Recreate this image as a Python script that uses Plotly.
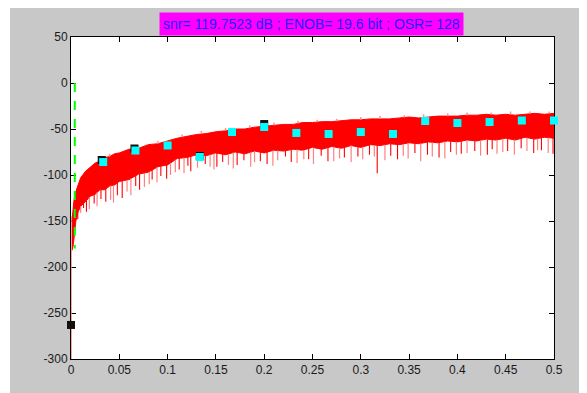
import numpy as np
import plotly.graph_objects as go

# ---------------- data ----------------
title_text = "snr= 119.7523 dB ; ENOB= 19.6 bit ; OSR= 128"

env_x = [0.001, 0.002, 0.003, 0.005, 0.0075, 0.01, 0.015, 0.02, 0.025, 0.03, 0.035,
         0.04, 0.045, 0.05, 0.06, 0.07, 0.08, 0.09, 0.10, 0.11, 0.12, 0.13, 0.14,
         0.15, 0.16, 0.17, 0.18, 0.19, 0.20, 0.21, 0.22, 0.23, 0.24, 0.25, 0.26,
         0.27, 0.28, 0.29, 0.30, 0.31, 0.32, 0.33, 0.34, 0.35, 0.36, 0.37, 0.38,
         0.39, 0.40, 0.41, 0.42, 0.43, 0.44, 0.45, 0.46, 0.47, 0.48, 0.49, 0.50]
env_upper = [-150, -140, -128, -118, -110, -103, -96, -92, -87, -85, -81,
             -80, -77, -76, -72, -71, -67, -66, -63, -60, -58, -56, -55,
             -53, -52, -50, -50, -48, -47, -46, -45, -45, -43, -43, -42,
             -42, -41, -40, -40, -39, -39, -39, -38, -37, -38, -37, -36,
             -36, -36, -35, -35, -34, -35, -34, -35, -34, -33, -34, -33]
env_lower = [-182, -178, -170, -150, -140, -134, -129, -123, -121, -116, -116,
             -112, -111, -107, -105, -99, -97, -91, -89, -82, -81, -78, -79,
             -76, -78, -75, -77, -74, -76, -73, -74, -72, -73, -70, -72,
             -69, -71, -68, -70, -67, -68, -66, -67, -65, -66, -64, -65,
             -63, -64, -62, -63, -61, -62, -60, -62, -59, -61, -59, -60]

spike_red_x = [0.007, 0.013, 0.016, 0.024, 0.031, 0.036, 0.048, 0.053, 0.067, 0.071,
               0.084, 0.093, 0.099, 0.112, 0.121, 0.124, 0.139, 0.151, 0.157, 0.172,
               0.179, 0.196, 0.203, 0.222, 0.228, 0.246, 0.259, 0.266, 0.283, 0.297,
               0.309, 0.317, 0.331, 0.338, 0.356, 0.369, 0.381, 0.393, 0.404, 0.418,
               0.431, 0.436, 0.452, 0.466, 0.479, 0.487, 0.499]
spike_red_y = [-148, -136, -140, -131, -126, -129, -122, -125, -112, -116,
               -105, -101, -104, -94, -90, -96, -88, -91, -86, -89,
               -84, -85, -88, -80, -86, -83, -79, -85, -81, -80,
               -78, -98, -79, -83, -76, -78, -81, -75, -77, -74,
               -78, -72, -74, -71, -76, -73, -77]
spike_pink_x = [0.01, 0.019, 0.027, 0.041, 0.044, 0.058, 0.062, 0.076, 0.081, 0.089,
                0.103, 0.108, 0.117, 0.131, 0.144, 0.148, 0.163, 0.168, 0.186, 0.19,
                0.209, 0.214, 0.234, 0.241, 0.251, 0.272, 0.278, 0.29, 0.302, 0.314,
                0.325, 0.344, 0.349, 0.362, 0.374, 0.387, 0.399, 0.41, 0.424, 0.441,
                0.447, 0.459, 0.472, 0.483, 0.494]
spike_pink_y = [-141, -137, -134, -127, -130, -118, -122, -113, -110, -108,
                -100, -97, -98, -92, -91, -94, -89, -93, -91, -86,
                -90, -84, -87, -83, -88, -85, -82, -86, -83, -80,
                -84, -79, -82, -85, -80, -82, -78, -76, -79, -77,
                -75, -78, -74, -73, -76]
top_spike_x = [0.04, 0.07, 0.09, 0.115, 0.135, 0.16, 0.185, 0.21, 0.235, 0.255,
               0.275, 0.3, 0.32, 0.345, 0.365, 0.39, 0.41, 0.435, 0.455, 0.475, 0.495]
top_spike_y = [-77, -68, -63, -56, -52, -49, -46, -43, -41, -40,
               -39, -37, -36, -35, -34, -33, -32, -32, -31, -31, -31]

dc_x = [0, 0]
dc_y = [-300, -145]

band_x = [0.0039, 0.0039]
band_y = [0, -180]

harm_x = [0.0333, 0.0667, 0.1, 0.1333, 0.1667, 0.2, 0.2333, 0.2667, 0.3,
          0.3333, 0.3667, 0.4, 0.4333, 0.4667, 0.5]
harm_y = [-85.9, -73.4, -67.9, -80.4, -53.3, -47.8, -54.3, -55.4, -53.3,
          -55.4, -41.3, -43.5, -42.4, -40.8, -40.8]

blk_x = [0.0, 0.0318, 0.0657, 0.1333, 0.2, 0.5013]
blk_y = [-263, -83.7, -71.2, -79.4, -44.6, -40.2]

x_ticks = [0, 0.05, 0.1, 0.15, 0.2, 0.25, 0.3, 0.35, 0.4, 0.45, 0.5]
x_labels = ["0", "0.05", "0.1", "0.15", "0.2", "0.25", "0.3", "0.35", "0.4", "0.45", "0.5"]
y_ticks = [-300, -250, -200, -150, -100, -50, 0, 50]
y_labels = ["-300", "-250", "-200", "-150", "-100", "-50", "0", "50"]

# ---------------- figure ----------------
OFF = 8  # page body margin
W, H = 587 - OFF, 393 - OFF
ML, MR, MT, MB = 71 - OFF, 587 - 554, 37 - OFF, 393 - 359
PW, PH = W - ML - MR, H - MT - MB

def px2paper_x(px):  # page pixel -> paper coordinate
    return (px - OFF - ML) / PW

def px2paper_y(py):
    return 1 - (py - OFF - MT) / PH

fig = go.Figure()

# filled noise band
fig.add_trace(go.Scatter(x=env_x, y=env_lower, mode="lines",
                         line=dict(color="#ff0000", width=1), hoverinfo="skip"))
fig.add_trace(go.Scatter(x=env_x, y=env_upper, mode="lines", fill="tonexty",
                         fillcolor="#ff0000",
                         line=dict(color="#ff0000", width=1), hoverinfo="skip"))

def spikes(xs, ys, ref):
    base = np.interp(xs, env_x, ref)
    sx, sy = [], []
    for x, b, y in zip(xs, base, ys):
        sx += [x, x, None]
        sy += [b, y, None]
    return sx, sy

sx, sy = spikes(spike_pink_x, spike_pink_y, env_lower)
fig.add_trace(go.Scatter(x=sx, y=sy, mode="lines",
                         line=dict(color="#ff8080", width=1.2), hoverinfo="skip"))
sx, sy = spikes(spike_red_x, spike_red_y, env_lower)
fig.add_trace(go.Scatter(x=sx, y=sy, mode="lines",
                         line=dict(color="#ff0000", width=1.1), hoverinfo="skip"))
sx, sy = spikes(top_spike_x, top_spike_y, env_upper)
fig.add_trace(go.Scatter(x=sx, y=sy, mode="lines",
                         line=dict(color="#ff9090", width=1.5), hoverinfo="skip"))

# DC line
fig.add_trace(go.Scatter(x=dc_x, y=dc_y, mode="lines", cliponaxis=False,
                         line=dict(color="#ff8080", width=1.5), hoverinfo="skip"))

# green dashed band-edge
fig.add_trace(go.Scatter(x=band_x, y=band_y, mode="lines",
                         line=dict(color="#00ff00", width=2, dash="dash"),
                         hoverinfo="skip"))

# black markers
fig.add_trace(go.Scatter(x=blk_x, y=blk_y, mode="markers", cliponaxis=False,
                         marker=dict(symbol="square", size=8, color="#101010",
                                     line=dict(width=0)), hoverinfo="skip"))
# cyan markers
fig.add_trace(go.Scatter(x=harm_x, y=harm_y, mode="markers", cliponaxis=False,
                         marker=dict(symbol="square", size=8, color="#00ffff",
                                     line=dict(width=0)), hoverinfo="skip"))

axis_common = dict(showline=True, linecolor="black", linewidth=1, mirror="ticks",
                   ticks="inside", ticklen=5, tickcolor="black", showgrid=False,
                   zeroline=False, layer="below traces",
                   tickfont=dict(family="Liberation Sans, Arial", size=12, color="#1a1a1a"))

fig.update_xaxes(range=[0, 0.5], tickvals=x_ticks, ticktext=x_labels, **axis_common)
fig.update_yaxes(range=[-300, 50], tickvals=y_ticks, ticktext=y_labels, **axis_common)

shapes = [
    # white strip at left (page px 8..10)
    dict(type="rect", xref="paper", yref="paper", layer="below",
         x0=px2paper_x(8), x1=px2paper_x(10), y0=px2paper_y(393), y1=px2paper_y(8),
         fillcolor="white", line=dict(width=0)),
]

fig.update_layout(
    width=W, height=H,
    margin=dict(l=ML, r=MR, t=MT, b=MB, pad=0),
    paper_bgcolor="#c8c8c8", plot_bgcolor="white",
    showlegend=False,
    shapes=shapes,
    annotations=[dict(text=title_text, xref="paper", yref="paper",
                      x=px2paper_x(311), y=px2paper_y(24), xanchor="center", yanchor="middle",
                      showarrow=False, bgcolor="#ff00ff", borderpad=3,
                      font=dict(family="Liberation Sans, Arial", size=14, color="#2020ff"))],
)

fig.write_html("out.html")
